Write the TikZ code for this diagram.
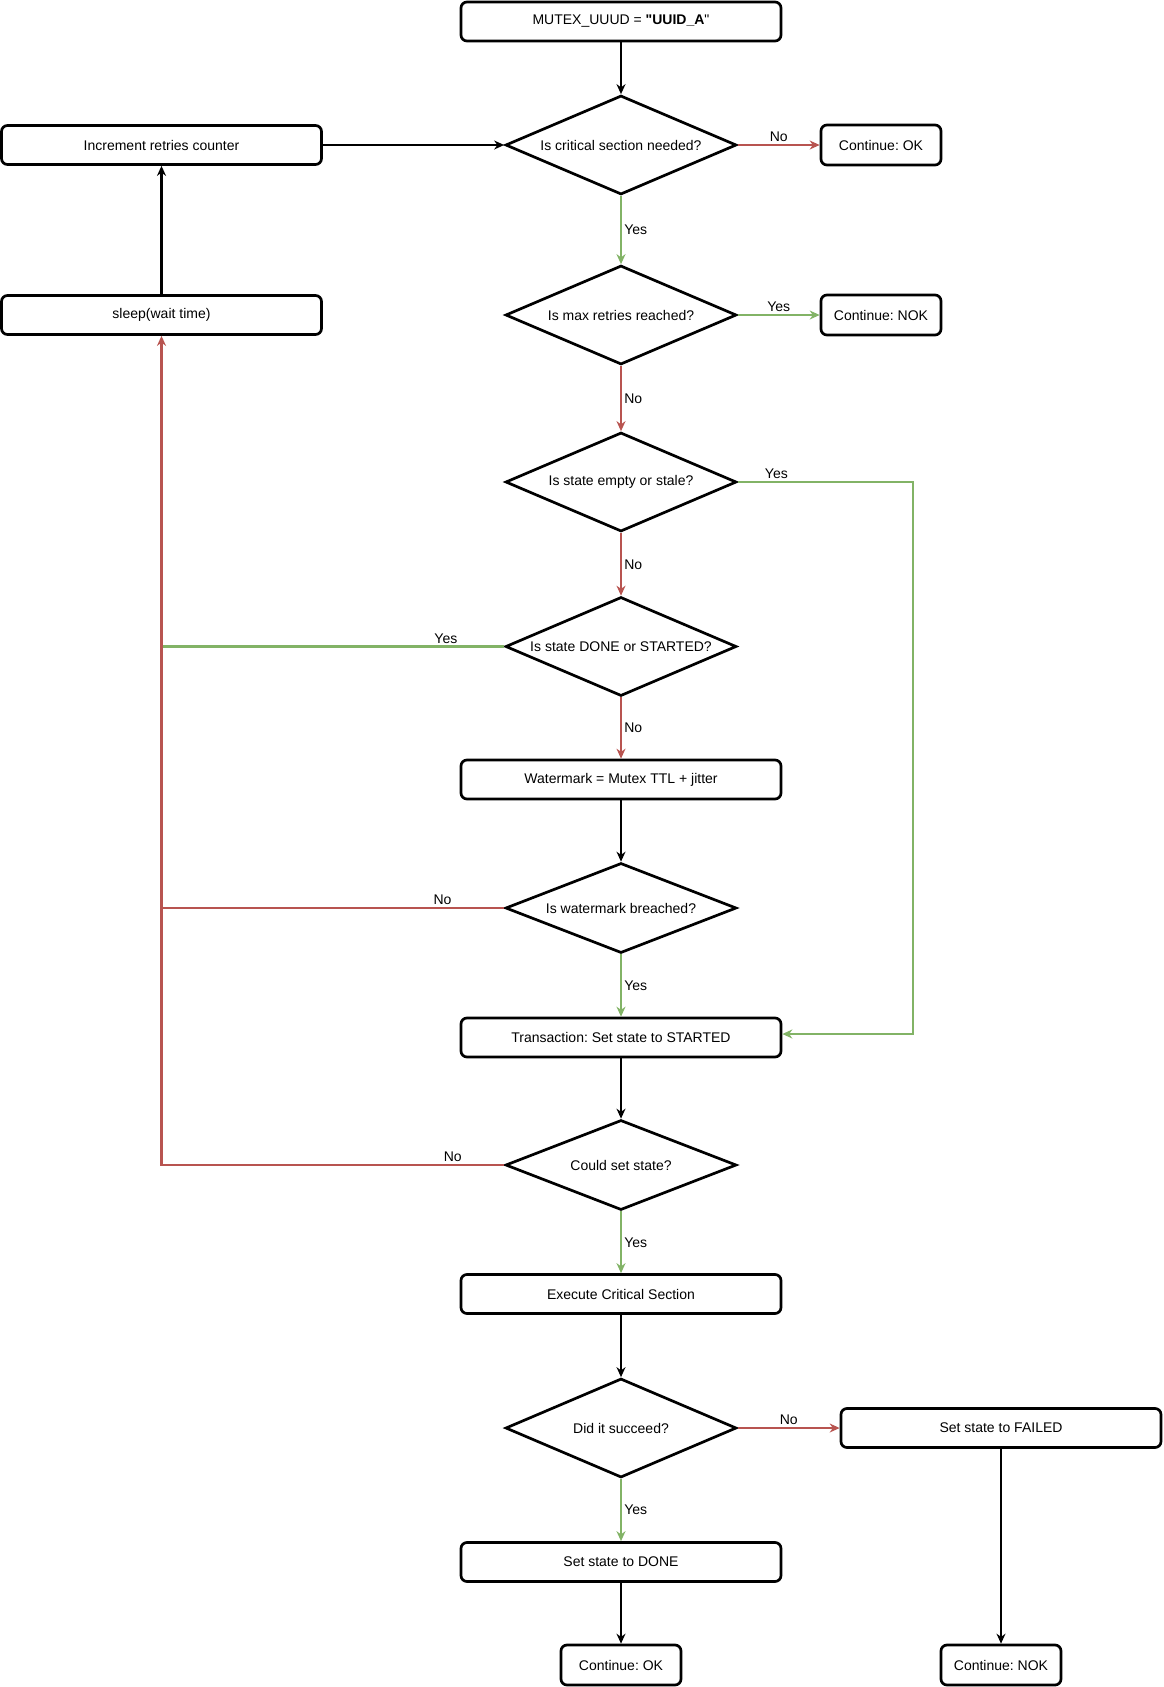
\documentclass[tikz,border=0pt]{standalone}
\usepackage{fontspec}
\setmainfont{Liberation Sans}
\usetikzlibrary{shapes.geometric, arrows.meta}
\definecolor{nored}{HTML}{B85450}
\definecolor{yesgreen}{HTML}{82B366}
\frenchspacing
\begin{document}
\begin{tikzpicture}[x=1pt, y=-1pt, >={Stealth[length=10pt, width=9pt]},
  every node/.style={font=\fontsize{14}{16}\selectfont},
  stepbox/.style={draw, line width=2.7pt, rectangle, rounded corners=6pt, minimum width=320pt, minimum height=39pt, inner sep=0pt},
  endbox/.style={stepbox, minimum width=120pt, minimum height=40pt},
  decision/.style={draw, line width=2.7pt, diamond, aspect=2.33, inner sep=0pt, minimum width=231pt, minimum height=99pt},
  flow/.style={->, line width=2.7pt},
  yesflow/.style={flow, draw=yesgreen},
  noflow/.style={flow, draw=nored},
  lbl/.style={inner sep=2pt}]
\useasboundingbox (0,0) rectangle (1163,1687);
% main column
\node[stepbox] (uuid) at (621,21.5) {MUTEX\_UUUD = \textbf{\textquotedbl UUID\_A}\textquotedbl};
\node[decision] (needed) at (621,145) {Is critical section needed?};
\node[decision] (maxret) at (621,315) {Is max retries reached?};
\node[decision] (stale) at (621,482) {Is state empty or stale?};
\node[decision] (started) at (621,646.5) {Is state DONE or STARTED?};
\node[stepbox] (wmark) at (621,779.5) {Watermark = Mutex TTL + jitter};
\node[decision, minimum height=90pt] (breach) at (621,908) {Is watermark breached?};
\node[stepbox] (trans) at (621,1037.5) {Transaction: Set state to STARTED};
\node[decision, minimum height=90pt] (couldset) at (621,1165) {Could set state?};
\node[stepbox] (exec) at (621,1294) {Execute Critical Section};
\node[decision] (succeed) at (621,1428) {Did it succeed?};
\node[stepbox] (done) at (621,1562) {Set state to DONE};
\node[endbox] (okB) at (621,1665) {Continue: OK};
% side nodes
\node[stepbox] (incr) at (161.5,145) {Increment retries counter};
\node[stepbox] (sleep) at (161.5,315) {sleep(wait time)};
\node[endbox] (okA) at (881,145) {Continue: OK};
\node[endbox] (nokA) at (881,315) {Continue: NOK};
\node[stepbox] (failed) at (1001,1428) {Set state to FAILED};
\node[endbox] (nokB) at (1001,1665) {Continue: NOK};
% connectors
\draw[flow] (uuid) -- (needed);
\draw[flow] (incr) -- (needed.west);
\draw[noflow] (needed.east) -- node[lbl, above] {No} (okA);
\draw[yesflow] (needed) -- node[lbl, right] {Yes} (maxret);
\draw[yesflow] (maxret.east) -- node[lbl, above] {Yes} (nokA);
\draw[noflow] (maxret) -- node[lbl, right] {No} (stale);
\draw[yesflow] (stale.east) -- node[lbl, above, pos=0.22] {Yes} ++(175,0) |- ([yshift=3.5pt]trans.east);
\draw[noflow] (stale) -- node[lbl, right] {No} (started);
\draw[yesflow, -] (started.west) -- node[lbl, above, pos=0.17] {Yes} (started.west -| sleep.south);
\draw[noflow] (started) -- node[lbl, right] {No} (wmark);
\draw[flow] (wmark) -- (breach);
\draw[noflow, -] (breach.west) -- node[lbl, above, pos=0.18] {No} (breach.west -| sleep.south);
\draw[yesflow] (breach) -- node[lbl, right] {Yes} (trans);
\draw[flow] (trans) -- (couldset);
\draw[noflow] (couldset.west) -| node[lbl, above, pos=0.075] {No} (sleep.south);
\draw[flow] (sleep) -- (incr);
\draw[yesflow] (couldset) -- node[lbl, right] {Yes} (exec);
\draw[flow] (exec) -- (succeed);
\draw[noflow] (succeed.east) -- node[lbl, above] {No} (failed);
\draw[yesflow] (succeed) -- node[lbl, right] {Yes} (done);
\draw[flow] (done) -- (okB);
\draw[flow] (failed) -- (nokB);
\end{tikzpicture}
\end{document}
